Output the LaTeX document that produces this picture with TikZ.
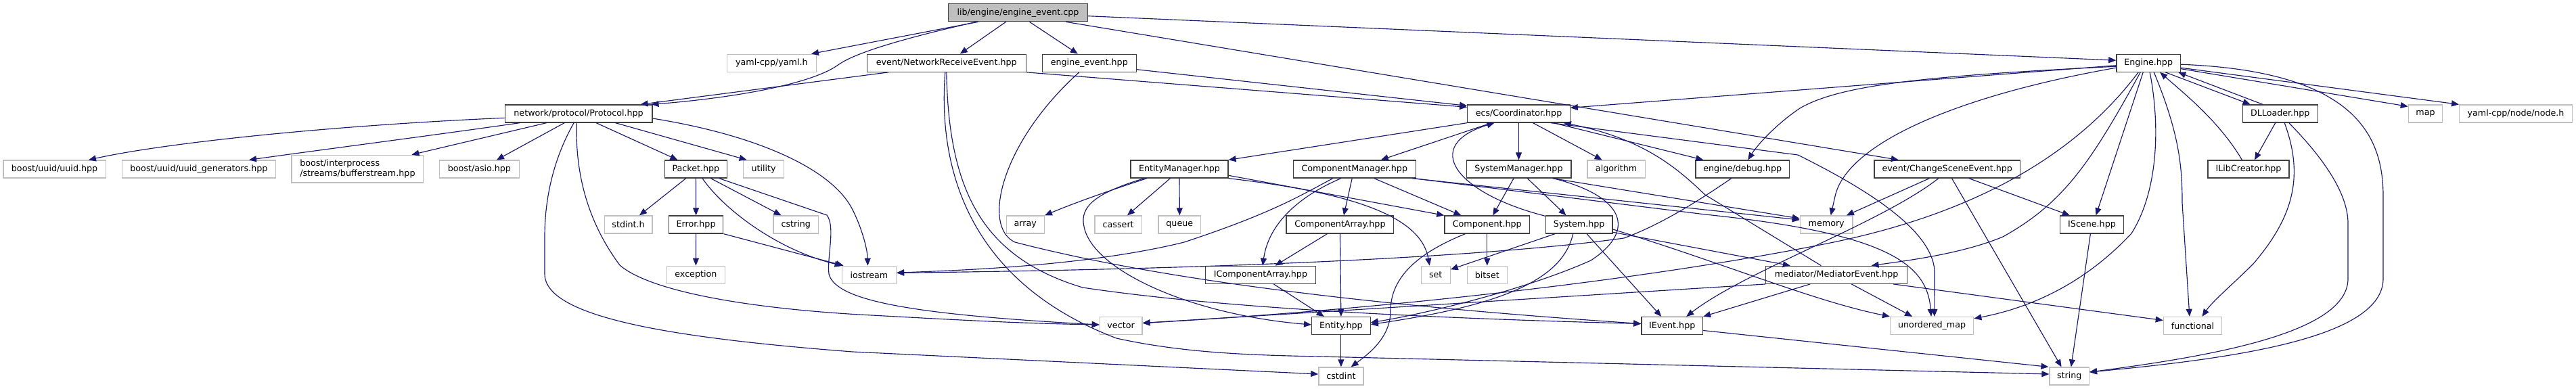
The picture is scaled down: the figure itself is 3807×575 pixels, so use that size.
\documentclass[tikz,border=0pt]{standalone}
\usepackage{fontspec}
\setmainfont{DejaVu Sans}
\usetikzlibrary{arrows.meta,calc}
\definecolor{mblue}{RGB}{25,25,112}
\definecolor{docb}{RGB}{64,64,64}
\definecolor{extb}{RGB}{191,191,191}
\definecolor{rootf}{RGB}{191,191,191}
\tikzset{
  nbase/.style={rectangle, minimum height=26pt, inner sep=0pt, font=\fontsize{12.7}{15}\selectfont, line width=1.3pt},
  docn/.style={nbase, draw=docb, fill=white},
  extn/.style={nbase, draw=extb, fill=white},
  rootn/.style={nbase, draw=docb, fill=rootf},
  edge/.style={draw=mblue, line width=1.15pt, -{Triangle[length=11pt,width=9pt]}},
}
\begin{document}
\begin{tikzpicture}[x=1pt,y=-1pt]
\useasboundingbox (0,0) rectangle (3807,575);
\fill[white] (0,0) rectangle (3807,575);
% row 0
\node[rootn,minimum width=205.7pt] (root) at (1504.5,18.7) {lib/engine/engine\_event.cpp};
% row 1
\node[extn,minimum width=131.8pt] (yaml) at (1140.4,93.2) {yaml-cpp/yaml.h};
\node[docn,minimum width=235pt] (nre) at (1398.8,93.2) {event/NetworkReceiveEvent.hpp};
\node[docn,minimum width=138.8pt] (eeh) at (1609.8,93.2) {engine\_event.hpp};
\node[docn,minimum width=94.7pt] (engine) at (3175.2,93.2) {Engine.hpp};
% row 2
\node[docn,minimum width=217.6pt] (protocol) at (855.1,168) {network/protocol/Protocol.hpp};
\node[docn,minimum width=151.4pt] (coord) at (2244.5,168) {ecs/Coordinator.hpp};
\node[docn,minimum width=111pt] (dll) at (3369.7,168) {DLLoader.hpp};
\node[extn,minimum width=50.3pt] (map) at (3584.5,168) {map};
\node[extn,minimum width=166.7pt] (nodeh) at (3718,168) {yaml-cpp/node/node.h};
% row 3
\node[extn,minimum width=151.4pt] (uuid) at (80.6,250) {boost/uuid/uuid.hpp};
\node[extn,minimum width=226.9pt] (uuidgen) at (293.9,250) {boost/uuid/uuid\_generators.hpp};
\node[extn,minimum width=194.7pt,minimum height=40.7pt,align=left] (bufs) at (528.4,249.7) {boost/interprocess\\/streams/bufferstream.hpp};
\node[extn,minimum width=117.5pt] (asio) at (708.4,250) {boost/asio.hpp};
\node[docn,minimum width=92.3pt] (packet) at (1028.4,250) {Packet.hpp};
\node[extn,minimum width=60pt] (utility) at (1128.6,250) {utility};
\node[docn,minimum width=144pt] (entmgr) at (1743,250) {EntityManager.hpp};
\node[docn,minimum width=181.2pt] (compmgr) at (2001.8,250) {ComponentManager.hpp};
\node[docn,minimum width=154.7pt] (sysmgr) at (2244.5,250) {SystemManager.hpp};
\node[extn,minimum width=85.3pt] (algorithm) at (2388.6,250) {algorithm};
\node[docn,minimum width=138.6pt] (debug) at (2575.2,250) {engine/debug.hpp};
\node[docn,minimum width=215.9pt] (cse) at (2877.8,250) {event/ChangeSceneEvent.hpp};
\node[docn,minimum width=119.8pt] (ilib) at (3323,250) {ILibCreator.hpp};
% row 4
\node[extn,minimum width=70.6pt] (stdint) at (928.6,332) {stdint.h};
\node[docn,minimum width=80.4pt] (error) at (1028.6,332) {Error.hpp};
\node[extn,minimum width=66.6pt] (cstring) at (1176.3,332) {cstring};
\node[extn,minimum width=56pt] (array) at (1515.3,332) {array};
\node[extn,minimum width=69.3pt] (cassert) at (1652.7,332) {cassert};
\node[extn,minimum width=62.9pt] (queue) at (1743.3,332) {queue};
\node[docn,minimum width=158.8pt] (comparr) at (1980.4,332) {ComponentArray.hpp};
\node[docn,minimum width=125.7pt] (component) at (2197.8,332) {Component.hpp};
\node[docn,minimum width=98.8pt] (system) at (2333.7,332) {System.hpp};
\node[extn,minimum width=77.6pt] (memory) at (2699.2,332) {memory};
\node[docn,minimum width=93.9pt] (iscene) at (3091.5,332) {IScene.hpp};
% row 5
\node[extn,minimum width=86.5pt] (exception) at (1028.4,406.3) {exception};
\node[extn,minimum width=80.2pt] (iostream) at (1284.4,406.3) {iostream};
\node[docn,minimum width=162.7pt] (icomparr) at (1863,406.3) {IComponentArray.hpp};
\node[extn,minimum width=42.9pt] (set) at (2121.7,406.3) {set};
\node[extn,minimum width=58.7pt] (bitset) at (2197.8,406.3) {bitset};
\node[docn,minimum width=208.6pt] (mediator) at (2714.1,406.3) {mediator/MediatorEvent.hpp};
% row 6
\node[extn,minimum width=62.5pt] (vector) at (1656.6,481.5) {vector};
\node[docn,minimum width=86.5pt] (entity) at (1981.9,481.5) {Entity.hpp};
\node[docn,minimum width=90.6pt] (ievent) at (2471.2,481.5) {IEvent.hpp};
\node[extn,minimum width=123.2pt] (umap) at (2855.1,481.5) {unordered\_map};
\node[extn,minimum width=86.3pt] (functional) at (3240.5,481.5) {functional};
% row 7
\node[extn,minimum width=66.1pt] (cstdint) at (1981.9,556) {cstdint};
\node[extn,minimum width=58.3pt] (string) at (3058.2,556) {string};

% ---- edges: root
\draw[edge] ($(root.south)+(-58.8,0)$) -- ($(yaml.north)+(58.6,0)$);
\draw[edge] ($(root.south)+(-62,0)$) .. controls (1330,58) and (1265,78) .. (1240,95) .. controls (1200,125) and (1080,145) .. ($(protocol.north east)+(-2,0)$);
\draw[edge] ($(root.south)+(-18,0)$) -- ($(nre.north)+(20,0)$);
\draw[edge] ($(root.south)+(17,0)$) -- ($(eeh.north)+(-17,0)$);
\draw[edge] ($(root.east)+(0,5)$) -- ($(engine.west)+(0,-4)$);
\draw[edge] ($(root.south)+(71,0)$) -- ($(cse.north)+(-72,0)$);
% nre / eeh
\draw[edge] ($(nre.south)+(-86,0)$) -- ($(protocol.north east)+(-18,0)$);
\draw[edge] (nre.south east) -- ($(coord.north west)+(0,4)$);
\draw[edge] ($(eeh.east)+(0,9.5)$) -- ($(coord.north west)+(0,2)$);
\draw[edge] ($(nre.south)+(-2,0)$) .. controls (1385,260) and (1440,420) .. (1650,500) .. controls (1750,522) and (1850,525) .. (1950,527) -- ($(string.west)+(0,-3)$);
\draw[edge] (nre.south) .. controls (1402,280) and (1450,380) .. (1600,425) .. controls (1800,455) and (2100,470) .. ($(ievent.west)+(0,-3)$);
\draw[edge] ($(eeh.south)+(-15,0)$) .. controls (1480,210) and (1450,335) .. (1500,358) .. controls (1700,410) and (2000,450) .. ($(ievent.west)+(0,-3)$);
% protocol
\draw[edge] ($(protocol.west)+(0,6.3)$) .. controls (500,185) and (250,210) .. ($(uuid.north east)+(-26,0)$);
\draw[edge] ($(protocol.south west)+(22.5,0)$) .. controls (640,200) and (470,222) .. ($(uuidgen.north east)+(-40,0)$);
\draw[edge] ($(protocol.south)+(-47.5,0)$) -- ($(bufs.north east)+(-18,0)$);
\draw[edge] ($(protocol.south)+(-21,0)$) -- ($(asio.north)+(25.6,0)$);
\draw[edge] ($(protocol.south)+(-7,0)$) .. controls (815,240) and (805,300) .. (805,350) -- (805,405) .. controls (805,470) and (1000,500) .. (1260,520) -- ($(cstdint.west)+(0,-3)$);
\draw[edge] ($(protocol.south)+(-3,0)$) .. controls (850,260) and (870,330) .. (916,392) .. controls (960,430) and (1100,455) .. (1270,465) .. controls (1400,472) and (1500,478) .. ($(vector.west)+(0,-1.5)$);
\draw[edge] ($(protocol.south)+(26,0)$) -- ($(packet.north)+(-27,0)$);
\draw[edge] ($(protocol.south)+(54.5,0)$) -- ($(utility.north)+(-25,0)$);
\draw[edge] ($(protocol.east)+(0,7)$) .. controls (1120,200) and (1230,250) .. (1260,310) .. controls (1275,340) and (1282,370) .. ($(iostream.north)+(-2,0)$);
% packet / error
\draw[edge] ($(packet.south)+(-14.7,0)$) -- ($(stdint.north east)+(-19.6,0)$);
\draw[edge] (packet.south) -- (error.north);
\draw[edge] ($(packet.south)+(9.6,0)$) .. controls (1070,310) and (1150,370) .. ($(iostream.north west)+(1,0)$);
\draw[edge] ($(packet.south)+(22,0)$) -- ($(cstring.north)+(-21.8,0)$);
\draw[edge] ($(packet.south)+(34.3,0)$) -- (1222,318) .. controls (1235,335) and (1222,380) .. (1225,405) .. controls (1235,445) and (1350,465) .. ($(vector.west)+(0,-1.5)$);
\draw[edge] (error.south) -- (exception.north);
\draw[edge] (error.south east) -- ($(iostream.north west)+(3,0)$);
% engine
\draw[edge] ($(engine.west)+(0,3.5)$) -- ($(coord.north east)+(0,5)$);
\draw[edge] ($(engine.west)+(0,5)$) .. controls (2850,112) and (2720,125) .. (2660,160) .. controls (2630,180) and (2600,210) .. ($(debug.north)+(8,0)$);
\draw[edge] ($(engine.west)+(0,7)$) .. controls (2900,140) and (2730,210) .. (2712,290) -- ($(memory.north)+(6.5,0)$);
\draw[edge] ($(engine.south)+(-15,0)$) .. controls (3060,240) and (2900,320) .. (2700,360) .. controls (2400,420) and (2000,460) .. ($(vector.east)+(0,-4)$);
\draw[edge] ($(engine.south)+(-12,0)$) .. controls (3090,240) and (3050,300) .. (2960,350) .. controls (2900,375) and (2820,385) .. ($(mediator.north east)+(-53.5,0)$);
\draw[edge] ($(engine.south)+(-8,0)$) -- ($(iscene.north)+(6,0)$);
\draw[edge] ($(engine.south)+(2,0)$) .. controls (3195,200) and (3185,290) .. (3150,345) .. controls (3080,420) and (3000,455) .. ($(umap.north east)+(0,3)$);
\draw[edge] ($(engine.south)+(8,0)$) .. controls (3222,200) and (3225,250) .. (3225,300) -- ($(functional.north)+(-4.6,0)$);
\draw[edge] ($(engine.east)+(0,2)$) .. controls (3480,105) and (3522,200) .. (3522,290) -- (3522,412) .. controls (3522,500) and (3300,530) .. ($(string.east)+(0,-6)$);
\draw[edge] ($(engine.south)+(25,0)$) -- ($(dll.north west)+(12,0)$);
\draw[edge] ($(dll.north west)+(30.6,0)$) -- ($(engine.south east)+(-4,0)$);
\draw[edge] ($(ilib.north)+(-9.6,0)$) .. controls (3280,180) and (3230,140) .. ($(engine.south)+(17,0)$);
\draw[edge] ($(engine.east)+(0,8.5)$) -- ($(map.north west)+(0,3)$);
\draw[edge] ($(engine.east)+(0,7)$) -- (nodeh.north west);
% dll
\draw[edge] ($(dll.south)+(-7,0)$) -- ($(ilib.north)+(9,0)$);
\draw[edge] ($(dll.south)+(6.5,0)$) .. controls (3405,260) and (3390,320) .. (3330,390) .. controls (3300,420) and (3270,445) .. ($(functional.north)+(14,0)$);
\draw[edge] ($(dll.south)+(13,0)$) .. controls (3440,240) and (3470,290) .. (3470,330) -- (3470,412) .. controls (3470,490) and (3280,525) .. ($(string.east)+(0,-6)$);
% coordinator
\draw[edge] (coord.south west) -- (entmgr.north east);
\draw[edge] ($(coord.south)+(-40,0)$) -- ($(compmgr.north)+(39,0)$);
\draw[edge] ($(system.north west)+(0,1)$) .. controls (2150,285) and (2100,215) .. ($(coord.south)+(-36,0)$);
\draw[edge] (coord.south) -- (sysmgr.north);
\draw[edge] ($(coord.south)+(21,0)$) -- ($(algorithm.north)+(-21,0)$);
\draw[edge] ($(coord.south)+(47.5,0)$) -- (2657,229) .. controls (2760,280) and (2855,340) .. (2859,400) -- ($(umap.north)+(3.7,0)$);
\draw[edge] ($(coord.south)+(51.5,0)$) -- ($(debug.north west)+(12,0)$);
\draw[edge] ($(mediator.north)+(-22.7,0)$) -- (2520,288) .. controls (2480,250) and (2430,205) .. ($(coord.south east)+(-10,0)$);
% entity manager
\draw[edge] ($(entmgr.south)+(-48,0)$) .. controls (1660,275) and (1600,295) .. (array.north east);
\draw[edge] ($(entmgr.south)+(-52,0)$) .. controls (1620,285) and (1595,305) .. (1602,335) .. controls (1615,400) and (1760,465) .. ($(entity.west)+(0,-1.5)$);
\draw[edge] ($(entmgr.south)+(-13.6,0)$) -- ($(cassert.north)+(13.3,0)$);
\draw[edge] (entmgr.south) -- (queue.north);
\draw[edge] ($(entmgr.east)+(0,9.3)$) -- (component.north west);
\draw[edge] (entmgr.south east) .. controls (2000,285) and (2100,320) .. ($(set.north)+(-9,0)$);
% component manager
\draw[edge] ($(compmgr.south)+(-3.6,0)$) -- ($(comparr.north)+(5.5,0)$);
\draw[edge] ($(compmgr.south)+(29,0)$) -- ($(component.north)+(-38.4,0)$);
\draw[edge] ($(compmgr.south)+(-32,0)$) .. controls (1920,290) and (1880,315) .. (1750,358) .. controls (1600,395) and (1400,400) .. ($(iostream.east)+(0,-3)$);
\draw[edge] ($(compmgr.south)+(-20,0)$) .. controls (1920,290) and (1875,330) .. ($(icomparr.north)+(3,0)$);
\draw[edge] ($(compmgr.south east)+(-6,0)$) -- ($(memory.west)+(0,-7)$);
\draw[edge] ($(compmgr.south east)+(-4,0)$) -- (2520,317) .. controls (2790,345) and (2848,390) .. ($(umap.north)+(-1,0)$);
% system manager
\draw[edge] ($(sysmgr.south)+(-7.5,0)$) -- ($(component.north)+(8.5,0)$);
\draw[edge] ($(sysmgr.south)+(12.8,0)$) -- ($(system.north)+(-19.2,0)$);
\draw[edge] ($(sysmgr.south east)+(-28,0)$) -- ($(memory.west)+(0,-9)$);
\draw[edge] ($(sysmgr.south east)+(-27,0)$) .. controls (2400,290) and (2420,340) .. (2351,385) .. controls (2250,430) and (2100,465) .. ($(entity.east)+(0,-4.8)$);
% arrays, component, system
\draw[edge] ($(comparr.south)+(-19,0)$) -- ($(icomparr.north)+(21.5,0)$);
\draw[edge] (comparr.south) -- (entity.north);
\draw[edge] ($(icomparr.south)+(19.4,0)$) -- ($(entity.north west)+(18.7,0)$);
\draw[edge] (component.south) -- (bitset.north);
\draw[edge] ($(component.south)+(-32.3,0)$) .. controls (2080,380) and (2055,420) .. (2055,460) .. controls (2055,500) and (2020,525) .. ($(cstdint.north east)+(-19,0)$);
\draw[edge] ($(system.south)+(-35.7,0)$) -- ($(set.east)+(0,-8)$);
\draw[edge] ($(system.south)+(-9,0)$) .. controls (2310,410) and (2230,450) .. ($(entity.east)+(0,-2)$);
\draw[edge] ($(system.south)+(11.3,0)$) -- ($(ievent.north)+(-16,0)$);
\draw[edge] ($(system.east)+(0,11.3)$) -- ($(mediator.north west)+(36.7,0)$);
\draw[edge] ($(system.east)+(0,7)$) .. controls (2550,390) and (2680,445) .. (umap.north west);
\draw[edge] (entity.south) -- (cstdint.north);
\draw[edge] ($(ievent.east)+(0,7)$) -- ($(string.north west)+(-1,0)$);
% mediator
\draw[edge] (mediator.south west) -- ($(vector.east)+(0,-4)$);
\draw[edge] ($(mediator.south)+(-39,0)$) -- (ievent.north east);
\draw[edge] ($(mediator.south)+(22.2,0)$) -- ($(umap.north)+(-29,0)$);
\draw[edge] ($(mediator.south east)+(-20.8,0)$) -- ($(functional.west)+(0,-8)$);
% debug
\draw[edge] ($(debug.south)+(-16.4,0)$) .. controls (2520,290) and (2460,330) .. (2400,352) .. controls (2200,380) and (1800,398) .. ($(iostream.east)+(0,-3)$);
% change scene event
\draw[edge] ($(cse.south)+(-26.4,0)$) -- ($(memory.north east)+(-9.8,0)$);
\draw[edge] ($(cse.south)+(-13,0)$) .. controls (2780,330) and (2580,400) .. ($(ievent.north)+(21,0)$);
\draw[edge] ($(cse.south)+(6.7,0)$) -- ($(string.north)+(-11.7,0)$);
\draw[edge] ($(cse.south)+(32,0)$) -- ($(iscene.north)+(-32.7,0)$);
\draw[edge] ($(iscene.south)+(-2.1,0)$) -- ($(string.north)+(2.6,0)$);
\end{tikzpicture}
\end{document}
